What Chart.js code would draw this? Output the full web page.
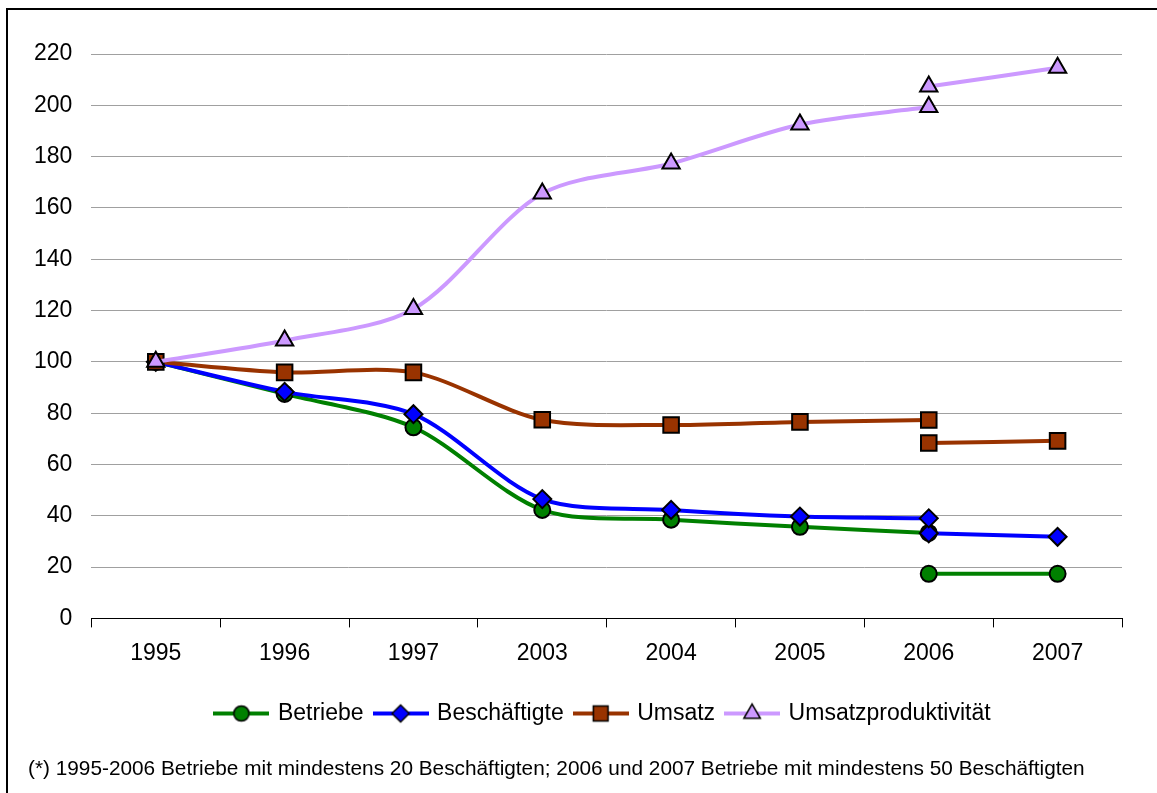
<!DOCTYPE html>
<html>
<head>
<meta charset="utf-8">
<script src="https://cdn.jsdelivr.net/npm/chart.js@4/dist/chart.umd.min.js"></script>
<style>
  html, body { margin: 0; padding: 0; background: #fff; overflow: hidden; }
  #wrap { position: relative; width: 1157px; height: 793px; }
  #frame { position: absolute; left: 6px; top: 8px; width: 1200px; height: 900px; border: 2px solid #000; box-sizing: border-box; }
  #note { position: absolute; left: 28px; top: 756px; font: 20.8px "Liberation Sans", Arial, sans-serif; color: #000; white-space: nowrap; }
  canvas { position: absolute; left: 0; top: 0; }
</style>
</head>
<body>
<div id="wrap">
  <div id="frame"></div>
  <canvas id="lineChart" width="1157" height="793"></canvas>
  <div id="note">(*) 1995-2006 Betriebe mit mindestens 20 Beschäftigten; 2006 und 2007 Betriebe mit mindestens 50 Beschäftigten</div>
</div>
<script>
const years = ["1995", "1996", "1997", "2003", "2004", "2005", "2006", "2007"];

// 1995-2006 (mind. 20 Beschäftigte)
const betriebe = [100, 87.5, 74.5, 42.3, 38.5, 35.7, 33.3, null];
const beschaeftigte = [100, 88.3, 79.6, 46.5, 42.3, 39.7, 39.0, null];
const umsatz = [100, 95.9, 95.9, 77.4, 75.4, 76.6, 77.3, null];
const produktivitaet = [100, 108.3, 120.6, 165.6, 177.3, 192.5, 199.3, null];

// 2006-2007 (mind. 50 Beschäftigte)
const betriebeNeu = [null, null, null, null, null, null, 17.4, 17.4];
const beschaeftigteNeu = [null, null, null, null, null, null, 33.2, 31.8];
const umsatzNeu = [null, null, null, null, null, null, 68.4, 69.2];
const produktivitaetNeu = [null, null, null, null, null, null, 207.3, 214.6];

const yTicks = [0, 20, 40, 60, 80, 100, 120, 140, 160, 180, 200, 220];

const FONT = "'Liberation Sans', Arial, sans-serif";

const series = [
  { label: "Betriebe", color: "#008000", style: "circle", radius: 8, data: betriebe, neu: betriebeNeu },
  { label: "Beschäftigte", color: "#0000FF", style: "rectRot", radius: 9, data: beschaeftigte, neu: beschaeftigteNeu },
  { label: "Umsatz", color: "#993300", style: "rect", radius: 11, data: umsatz, neu: umsatzNeu },
  { label: "Umsatzproduktivität", color: "#CC99FF", style: "triangle", radius: 10, data: produktivitaet, neu: produktivitaetNeu },
];

function makeDataset(s, data, inLegend, order) {
  return {
    label: s.label,
    data,
    order,
    borderColor: s.color,
    backgroundColor: s.color,
    borderWidth: 4,
    tension: 0.3,
    spanGaps: false,
    pointStyle: s.style,
    pointRadius: s.radius,
    pointHoverRadius: s.radius,
    pointBackgroundColor: s.color,
    pointBorderColor: "#000",
    pointBorderWidth: 2,
    inLegend,
  };
}

// later series are drawn on top, as in the original
const datasets = [];
series.forEach((s, i) => datasets.push(makeDataset(s, s.data, true, 10 - i)));
series.forEach((s, i) => datasets.push(makeDataset(s, s.neu, false, 10 - i)));

// legend icon: line with the marker in the middle
function legendIcon(s) {
  const c = document.createElement("canvas");
  c.width = 56;
  c.height = 26;
  const g = c.getContext("2d");
  g.strokeStyle = s.color;
  g.lineWidth = 4;
  g.beginPath();
  g.moveTo(0, 13);
  g.lineTo(56, 13);
  g.stroke();
  g.fillStyle = s.color;
  g.strokeStyle = "#000";
  g.lineWidth = 1.5;
  Chart.helpers.drawPoint(g, { pointStyle: s.style, radius: s.radius * 0.95, borderWidth: 1.5, rotation: 0 }, 28, 13);
  return c;
}

const icons = series.map(legendIcon);

// nudge the legend to the right, like the original
const legendShift = {
  id: "legendShift",
  afterLayout(chart) {
    chart.legend.left += 35;
    chart.legend.right += 35;
  },
};

new Chart(document.getElementById("lineChart").getContext("2d"), {
  type: "line",
  data: { labels: years, datasets },
  options: {
    responsive: false,
    animation: false,
    events: [],
    layout: { padding: { left: 15, right: 35, top: 54, bottom: 58 } },
    plugins: {
      tooltip: { enabled: false },
      legend: {
        position: "bottom",
        labels: {
          usePointStyle: true,
          pointStyleWidth: 50,
          padding: 12,
          color: "#000",
          font: { size: 23, family: FONT },
          filter: (item, data) => data.datasets[item.datasetIndex].inLegend,
          generateLabels: (chart) =>
            chart.data.datasets.map((ds, i) => ({
              text: ds.label,
              datasetIndex: i,
              pointStyle: icons[i % 4],
              fillStyle: ds.backgroundColor,
              strokeStyle: ds.borderColor,
              lineWidth: 0,
              hidden: false,
            })),
        },
      },
    },
    scales: {
      x: {
        offset: true,
        afterFit: (axis) => { axis.height += 11; },
        grid: { offset: true, drawOnChartArea: false, color: "#000", tickLength: 9, tickColor: "#000" },
        border: { color: "#000", width: 1 },
        ticks: { color: "#000", padding: 12, font: { size: 23, family: FONT } },
      },
      y: {
        min: 0,
        max: 220,
        afterBuildTicks: (axis) => { axis.ticks = yTicks.map((v) => ({ value: v })); },
        grid: { color: "#a0a0a0", lineWidth: 1, drawTicks: false },
        border: { display: false },
        ticks: { color: "#000", padding: 19, font: { size: 23, family: FONT } },
      },
    },
  },
  plugins: [legendShift],
});
</script>
</body>
</html>
